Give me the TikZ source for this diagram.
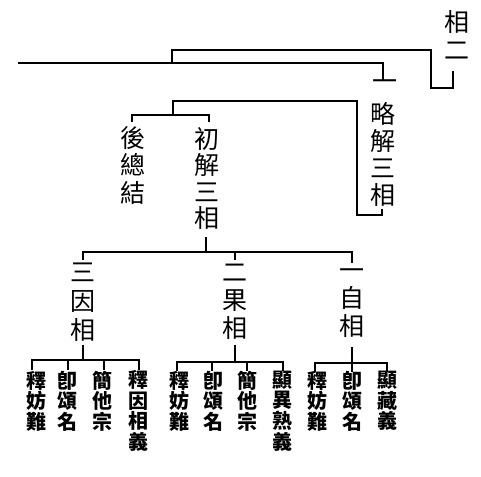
\documentclass[tikz,border=0pt]{standalone}
\usepackage{fontspec}
\newfontfamily\cjk{Noto Sans CJK TC}
\newcommand\cjkbigfont[1]{\cjk\fontsize{25}{#1}\selectfont\lineskiplimit=-50pt\relax}
\newcommand\cjksmfont{\cjk\bfseries\fontsize{20}{20.6}\selectfont\lineskiplimit=-50pt\relax}
\begin{document}
\begin{tikzpicture}[x=1pt,y=-1pt,
  ln/.style={line width=1.5pt},
  big/.style={inner sep=0pt, align=center, font={\cjkbigfont{#1}}},
  big/.default=28,
  sm/.style={inner sep=0pt, align=center, font={\cjksmfont}}]
\useasboundingbox[fill=white] (0,0) rectangle (481,476);
% texts
\node[big] (xiang0) at (457,22) {相};
\node[big] (er0) at (457,51) {二};
\node[big] (yi1) at (385,85) {一};
\node[big=27] (lue) at (383,154) {略\\解\\三\\相};
\node[big=27.5] (hou) at (133,165) {後\\總\\結};
\node[big=26.3] (chu) at (207,178.5) {初\\解\\三\\相};
\node[big=29] (yin) at (83,302) {三\\因\\相};
\node[big=28] (guo) at (235,302) {二\\果\\相};
\node[big=28] (zi) at (352,303) {一\\自\\相};
\node[sm] (a1) at (36,401) {釋\\妨\\難};
\node[sm] (a2) at (67,401) {卽\\頌\\名};
\node[sm] (a3) at (102,401) {簡\\他\\宗};
\node[sm] (a4) at (138,411) {釋\\因\\相\\義};
\node[sm] (b1) at (179,401) {釋\\妨\\難};
\node[sm] (b2) at (213,401) {卽\\頌\\名};
\node[sm] (b3) at (247,401) {簡\\他\\宗};
\node[sm] (b4) at (282,411) {顯\\異\\熟\\義};
\node[sm] (c1) at (317,401) {釋\\妨\\難};
\node[sm] (c2) at (352,401) {卽\\頌\\名};
\node[sm] (c3) at (387,401) {顯\\藏\\義};
% junction coordinates
\coordinate (root) at (18,63);
\coordinate (j0) at (172,63);
\coordinate (j1) at (173,101);
\coordinate (j2) at (206,252);
% connectors
\draw[ln] (root) -- (383,63) -- (383,80);
\draw[ln] (j0) -- (172,50) -- (431,50) -- (431,88) -- (453,88) -- (453,71);
\draw[ln] (173,115) -- (j1) -- (357,101) -- (357,215) -- (382,215) -- (382,209);
\draw[ln] (132,122) -- (132,115) -- (209,115) -- (209,122);
\draw[ln] (206,237) -- (j2);
\draw[ln] (83,260) -- (83,252) -- (352,252) -- (352,263);
\draw[ln] (235,252) -- (235,260);
% group 1
\draw[ln] (83,345) -- (83,360);
\draw[ln] (32,370) -- (32,360) -- (139,360) -- (139,370);
\draw[ln] (68,360) -- (68,370);
\draw[ln] (104,360) -- (104,370);
% group 2
\draw[ln] (235,345) -- (235,362);
\draw[ln] (177,371) -- (177,362) -- (283,362) -- (283,371);
\draw[ln] (212,362) -- (212,371);
\draw[ln] (247,362) -- (247,371);
% group 3
\draw[ln] (352,347) -- (352,372);
\draw[ln] (315,372) -- (315,363) -- (387,363) -- (387,372);
\end{tikzpicture}
\end{document}
